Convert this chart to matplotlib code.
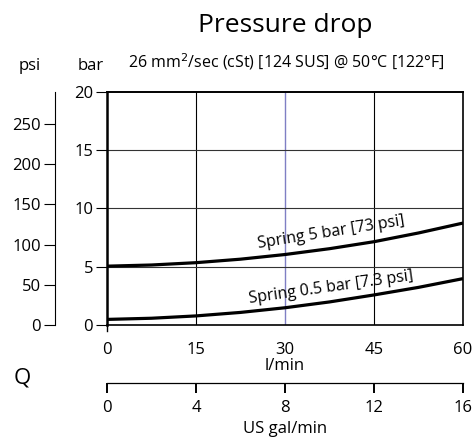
import numpy as np
import matplotlib.pyplot as plt

plt.rcParams['font.family'] = ['Open Sans', 'DejaVu Sans']

# --- Data ---
flow_lpm = [0, 7.5, 15, 22.5, 30, 37.5, 45, 52.5, 60]
spring_5bar = [5.05, 5.15, 5.35, 5.65, 6.05, 6.55, 7.15, 7.9, 8.75]
spring_05bar = [0.48, 0.58, 0.78, 1.08, 1.48, 1.98, 2.58, 3.23, 3.98]

lpm_ticks = [0, 15, 30, 45, 60]
bar_ticks = [0, 5, 10, 15, 20]
psi_ticks = [0, 50, 100, 150, 200, 250]
gpm_ticks = [0, 4, 8, 12, 16]

BAR_TO_PSI = 14.5

fig = plt.figure(figsize=(4.75, 4.4), dpi=100)
left, width = 107 / 475, 356 / 475
ax = fig.add_axes([left, 1 - 325 / 440, width, 233 / 440])

ax.set_xlim(0, 60)
ax.set_ylim(0, 20)

# --- grid ---
for x in [15, 45]:
    ax.axvline(x, color='black', lw=0.8, zorder=1)
ax.axvline(30, color='#7f7fc4', lw=1.0, zorder=1)
for y in [5, 10, 15]:
    ax.axhline(y, color='#333333', lw=0.8, zorder=1)

# --- curves ---
ax.plot(flow_lpm, spring_5bar, color='black', lw=2.3, zorder=3,
        solid_capstyle='butt', solid_joinstyle='round')
ax.plot(flow_lpm, spring_05bar, color='black', lw=2.3, zorder=3,
        solid_capstyle='butt', solid_joinstyle='round')

ax.text(37.75, 7.9, 'Spring 5 bar [73 psi]', rotation=9, ha='center', va='center',
        fontsize=11.5)
ax.text(37.75, 3.25, 'Spring 0.5 bar [7.3 psi]', rotation=8, ha='center', va='center',
        fontsize=11.5)

# --- spines / ticks ---
for s in ['left', 'right', 'top', 'bottom']:
    ax.spines[s].set_color('black')
ax.spines['left'].set_linewidth(1.8)
ax.spines['top'].set_linewidth(1.4)
ax.spines['right'].set_linewidth(1.2)
ax.spines['bottom'].set_linewidth(1.2)

ax.set_yticks(bar_ticks)
ax.tick_params(axis='y', direction='out', length=8, width=0.8, labelsize=12, pad=2)
ax.set_xticks(lpm_ticks)
ax.tick_params(axis='x', length=0, labelsize=12, pad=12)
fig.text(285 / 475, 1 - 366 / 440, 'l/min', ha='center', va='center', fontsize=12)

# small extension of left axis below zero
ax.plot([0, 0], [0, -0.5], color='black', lw=1.0, clip_on=False)

# --- psi axis ---
psi_ax = ax.secondary_yaxis(-0.146, functions=(lambda b: b * BAR_TO_PSI,
                                               lambda p: p / BAR_TO_PSI))
psi_ax.set_yticks(psi_ticks)
psi_ax.tick_params(direction='out', length=8, width=0.8, labelsize=12, pad=2)
psi_ax.spines['left'].set_linewidth(0.8)

# --- US gal/min axis (separate thin axes) ---
gax = fig.add_axes([left, 1 - 383 / 440, width, 0.001])
gax.set_xlim(0, 16)
gax.set_yticks([])
for s in ['left', 'right', 'top']:
    gax.spines[s].set_visible(False)
gax.spines['bottom'].set_linewidth(0.9)
gax.set_xticks(gpm_ticks)
gax.tick_params(axis='x', direction='out', length=7, width=1.4, color='black',
                labelsize=12, pad=5)
gax.set_xlabel('US gal/min', fontsize=12, labelpad=4)
gax.patch.set_visible(False)

# --- texts ---
fig.text(285 / 475, 1 - 25 / 440, 'Pressure drop', ha='center', va='center', fontsize=19)
fig.text(286 / 475, 1 - 62 / 440, '26 mm$^2$/sec (cSt) [124 SUS] @ 50°C [122°F]',
         ha='center', va='center', fontsize=11.5)
fig.text(30 / 475, 1 - 66 / 440, 'psi', ha='center', va='center', fontsize=12)
fig.text(91 / 475, 1 - 66 / 440, 'bar', ha='center', va='center', fontsize=12)
fig.text(22 / 475, 1 - 378 / 440, 'Q', ha='center', va='center', fontsize=16)

fig.savefig('out.png', dpi=100)
